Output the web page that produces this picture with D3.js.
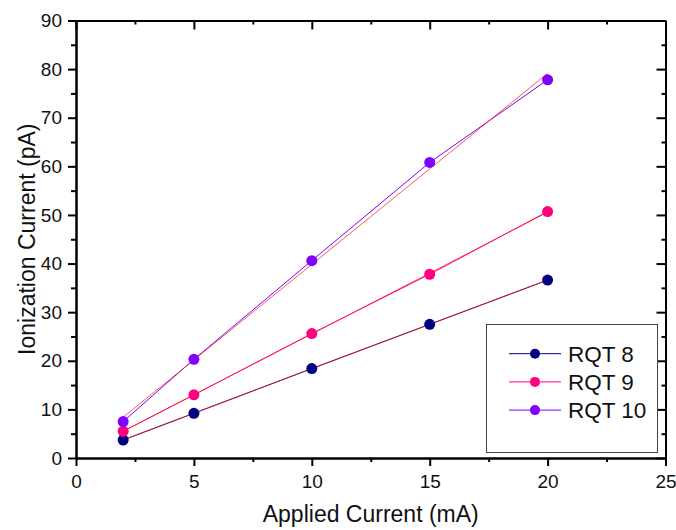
<!DOCTYPE html>
<html>
<head>
<meta charset="utf-8">
<script src="https://cdn.jsdelivr.net/npm/d3@7"></script>
<style>
  body { margin: 0; background: #fff; }
  svg { display: block; font-family: "Liberation Sans", Arial, sans-serif; }
</style>
</head>
<body>
<svg id="chart" width="676" height="530"></svg>
<script>
// データ
const currents = [2, 5, 10, 15, 20];          // Applied Current (mA)
const rqt8 = [3.7, 9.2, 18.4, 27.5, 36.6];
const rqt9 = [5.5, 13.0, 25.6, 37.8, 50.7];
const rqt10 = [7.5, 20.3, 40.6, 60.8, 77.8];
const seriesNames = ["RQT 8", "RQT 9", "RQT 10"];
const seriesColors = ["#000080", "#ff0080", "#8000ff"];
const xMajorTicks = [0, 5, 10, 15, 20, 25];
const xMinorTicks = [2.5, 7.5, 12.5, 17.5, 22.5];
const yMajorTicks = [0, 10, 20, 30, 40, 50, 60, 70, 80, 90];
const yMinorTicks = [5, 15, 25, 35, 45, 55, 65, 75, 85];

const svg = d3.select('#chart');
const plotLeft = 76, plotRight = 665.5, plotTop = 20.5, plotBottom = 458;

const x = d3.scaleLinear().domain([0, 25]).range([plotLeft, plotRight]);
const y = d3.scaleLinear().domain([0, 90]).range([plotBottom, plotTop]);

const allSeries = [rqt8, rqt9, rqt10].map((vals, i) => ({
    name: seriesNames[i],
    color: seriesColors[i],
    points: currents.map((c, j) => ({ x: c, y: vals[j] }))
}));

// 最小二乗法による直線フィット
function linearFit(pts) {
    const mx = d3.mean(pts, p => p.x), my = d3.mean(pts, p => p.y);
    const sxy = d3.sum(pts, p => (p.x - mx) * (p.y - my));
    const sxx = d3.sum(pts, p => (p.x - mx) ** 2);
    const slope = sxy / sxx;
    return { slope, intercept: my - slope * mx };
}

// 軸の描画
function styleAxis(g) {
    g.selectAll('path').attr('stroke', '#000').attr('stroke-width', 2);
    g.selectAll('line').attr('stroke', '#000').attr('stroke-width', 2);
    g.selectAll('text').attr('fill', '#111').style('font-size', '19px');
}

// 下軸
svg.append('g').attr('transform', `translate(0,${plotBottom})`)
    .call(d3.axisBottom(x).tickValues(xMinorTicks).tickSize(4).tickSizeOuter(0).tickFormat(''))
    .call(styleAxis);
svg.append('g').attr('transform', `translate(0,${plotBottom})`)
    .call(d3.axisBottom(x).tickValues(xMajorTicks).tickSize(8).tickSizeOuter(0).tickPadding(9).tickFormat(d3.format('d')))
    .call(styleAxis);

// 上軸 (内向き目盛)
svg.append('g').attr('transform', `translate(0,${plotTop})`)
    .call(d3.axisTop(x).tickValues(xMinorTicks).tickSize(-4).tickSizeOuter(0).tickFormat(''))
    .call(styleAxis);
svg.append('g').attr('transform', `translate(0,${plotTop})`)
    .call(d3.axisTop(x).tickValues(xMajorTicks).tickSize(-9).tickSizeOuter(0).tickFormat(''))
    .call(styleAxis);

// 左軸
svg.append('g').attr('transform', `translate(${plotLeft},0)`)
    .call(d3.axisLeft(y).tickValues(yMinorTicks).tickSize(5).tickSizeOuter(0).tickFormat(''))
    .call(styleAxis);
svg.append('g').attr('transform', `translate(${plotLeft},0)`)
    .call(d3.axisLeft(y).tickValues(yMajorTicks).tickSize(8).tickSizeOuter(0).tickPadding(6).tickFormat(d3.format('d')))
    .call(styleAxis);

// 右軸 (内向き目盛)
svg.append('g').attr('transform', `translate(${plotRight},0)`)
    .call(d3.axisRight(y).tickValues(yMinorTicks).tickSize(-4).tickSizeOuter(0).tickFormat(''))
    .call(styleAxis);
svg.append('g').attr('transform', `translate(${plotRight},0)`)
    .call(d3.axisRight(y).tickValues(yMajorTicks).tickSize(-9).tickSizeOuter(0).tickFormat(''))
    .call(styleAxis);

// 軸タイトル
svg.append('text')
    .attr('x', (plotLeft + plotRight) / 2)
    .attr('y', 522)
    .attr('text-anchor', 'middle')
    .style('font-size', '23px')
    .attr('fill', '#111')
    .text('Applied Current (mA)');

svg.append('text')
    .attr('transform', `translate(35,${(plotTop + plotBottom) / 2}) rotate(-90)`)
    .attr('text-anchor', 'middle')
    .style('font-size', '23px')
    .attr('fill', '#111')
    .text('Ionization Current (pA)');

const plot = svg.append('g');
const line = d3.line().x(d => x(d.x)).y(d => y(d.y));

// データ線
plot.selectAll('.series-line')
    .data(allSeries)
    .enter()
    .append('path')
    .attr('class', 'series-line')
    .attr('fill', 'none')
    .attr('stroke', d => d.color)
    .attr('stroke-width', 1)
    .attr('d', d => line(d.points));

// フィット直線 (赤)
plot.selectAll('.fit-line')
    .data(allSeries)
    .enter()
    .append('path')
    .attr('class', 'fit-line')
    .attr('fill', 'none')
    .attr('stroke', '#ff2020')
    .attr('stroke-opacity', 0.75)
    .attr('stroke-width', 1)
    .attr('d', d => {
        const f = linearFit(d.points);
        const x0 = d3.min(d.points, p => p.x), x1 = d3.max(d.points, p => p.x);
        return line([{ x: x0, y: f.intercept + f.slope * x0 }, { x: x1, y: f.intercept + f.slope * x1 }]);
    });

// データ点
allSeries.forEach(s => {
    plot.append('g')
        .selectAll('circle')
        .data(s.points)
        .enter()
        .append('circle')
        .attr('cx', d => x(d.x))
        .attr('cy', d => y(d.y))
        .attr('r', 5.5)
        .attr('fill', s.color);
});

// 凡例
const legend = svg.append('g');
legend.append('rect')
    .attr('x', 486.5).attr('y', 324.5)
    .attr('width', 171).attr('height', 128)
    .attr('fill', '#fff')
    .attr('stroke', '#444')
    .attr('stroke-width', 1);

const rows = legend.selectAll('.legend-row')
    .data(allSeries)
    .enter()
    .append('g')
    .attr('class', 'legend-row')
    .attr('transform', (d, i) => `translate(0,${353.7 + i * 28.2})`);

rows.append('line')
    .attr('x1', 509).attr('x2', 561)
    .attr('stroke', d => d.color)
    .attr('stroke-width', 1);
rows.append('circle')
    .attr('cx', 535).attr('r', 5)
    .attr('fill', d => d.color);
rows.append('text')
    .attr('x', 568)
    .attr('y', 8)
    .style('font-size', '22.5px')
    .attr('fill', '#111')
    .text(d => d.name);
</script>
</body>
</html>
